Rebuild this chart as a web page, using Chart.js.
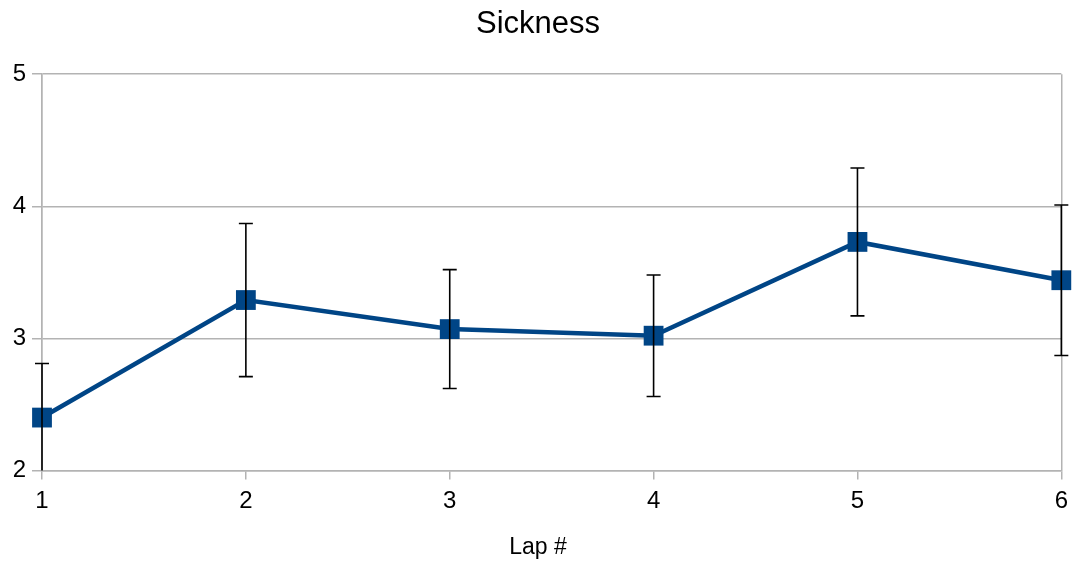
<!DOCTYPE html>
<html>
<head>
<meta charset="utf-8">
<script src="https://cdn.jsdelivr.net/npm/chart.js@4.4.1/dist/chart.umd.min.js"></script>
<style>
  html, body { margin: 0; padding: 0; background: #ffffff; }
  #wrap { width: 1076px; height: 561px; }
</style>
</head>
<body>
<div id="wrap"><canvas id="chart" width="1076" height="561"></canvas></div>
<script>
// Lap numbers and mean sickness score per lap, with ± error
const laps = [1, 2, 3, 4, 5, 6];
const sickness = [2.40, 3.29, 3.07, 3.02, 3.73, 3.44];
const sicknessError = [0.41, 0.58, 0.45, 0.46, 0.56, 0.57];
const yTicks = [2, 3, 4, 5];

const FONT = '"Liberation Sans", Arial, sans-serif';
const GRID = '#b3b3b3';

// Draws vertical error bars with caps on top of the line, via the chart scales
const errorBars = {
  id: 'errorBars',
  afterDatasetsDraw(chart) {
    const { ctx, scales: { x, y } } = chart;
    ctx.save();
    ctx.strokeStyle = '#000000';
    ctx.lineWidth = 1.6;
    const cap = 7;
    laps.forEach((lap, i) => {
      const px = x.getPixelForValue(lap);
      const hiV = sickness[i] + sicknessError[i];
      const loV = sickness[i] - sicknessError[i];
      const top = y.getPixelForValue(Math.min(hiV, y.max));
      const bot = y.getPixelForValue(Math.max(loV, y.min));
      ctx.beginPath();
      ctx.moveTo(px, top);
      ctx.lineTo(px, bot);
      if (hiV <= y.max) { ctx.moveTo(px - cap, top); ctx.lineTo(px + cap, top); }
      if (loV >= y.min) { ctx.moveTo(px - cap, bot); ctx.lineTo(px + cap, bot); }
      ctx.stroke();
    });
    ctx.restore();
  }
};

new Chart(document.getElementById('chart'), {
  type: 'line',
  data: {
    datasets: [{
      label: 'Sickness',
      data: laps.map((l, i) => ({ x: l, y: sickness[i] })),
      borderColor: '#004586',
      backgroundColor: '#004586',
      borderWidth: 4.5,
      pointStyle: 'rect',
      pointRadius: 14,
      pointBorderWidth: 0,
      pointBackgroundColor: '#004586',
      tension: 0,
      clip: false
    }]
  },
  options: {
    responsive: false,
    animation: false,
    layout: { padding: 0 },
    plugins: {
      legend: { display: false },
      tooltip: { enabled: false },
      title: {
        display: true,
        text: 'Sickness',
        color: '#000000',
        font: { family: FONT, size: 31, weight: 'normal' },
        padding: { top: 6, bottom: 31 }
      },
      subtitle: {
        display: true,
        position: 'bottom',
        text: 'Lap #',
        color: '#000000',
        font: { family: FONT, size: 23, weight: 'normal' },
        padding: { top: 4, bottom: 0 }
      }
    },
    scales: {
      x: {
        type: 'linear',
        min: 1,
        max: 6,
        afterBuildTicks(scale) { scale.ticks = laps.map(v => ({ value: v })); },
        afterFit(scale) { scale.height = 59; },
        grid: {
          // only the outer frame is drawn across the plot; inner laps get tick marks only
          color: (c) => (c.index === 0 || c.index === laps.length - 1) ? GRID : 'rgba(0,0,0,0)',
          tickColor: GRID,
          lineWidth: 1.5,
          tickLength: 9
        },
        border: { color: GRID, width: 1.5 },
        ticks: {
          color: '#000000',
          font: { family: FONT, size: 24 },
          padding: 8,
          maxRotation: 0
        }
      },
      y: {
        min: 2,
        max: 5,
        afterBuildTicks(scale) { scale.ticks = yTicks.map(v => ({ value: v })); },
        afterFit(scale) { scale.width = 42; },
        grid: { color: GRID, lineWidth: 1.5, tickLength: 10 },
        border: { color: GRID, width: 1.5 },
        ticks: {
          color: '#000000',
          font: { family: FONT, size: 24 },
          padding: 6
        }
      },
      // empty right-hand margin so the last lap label has room
      yMargin: {
        type: 'linear',
        position: 'right',
        min: 2,
        max: 5,
        afterFit(scale) { scale.width = 13; },
        grid: { display: false },
        border: { display: false },
        ticks: { display: false }
      }
    }
  },
  plugins: [errorBars]
});
</script>
</body>
</html>
